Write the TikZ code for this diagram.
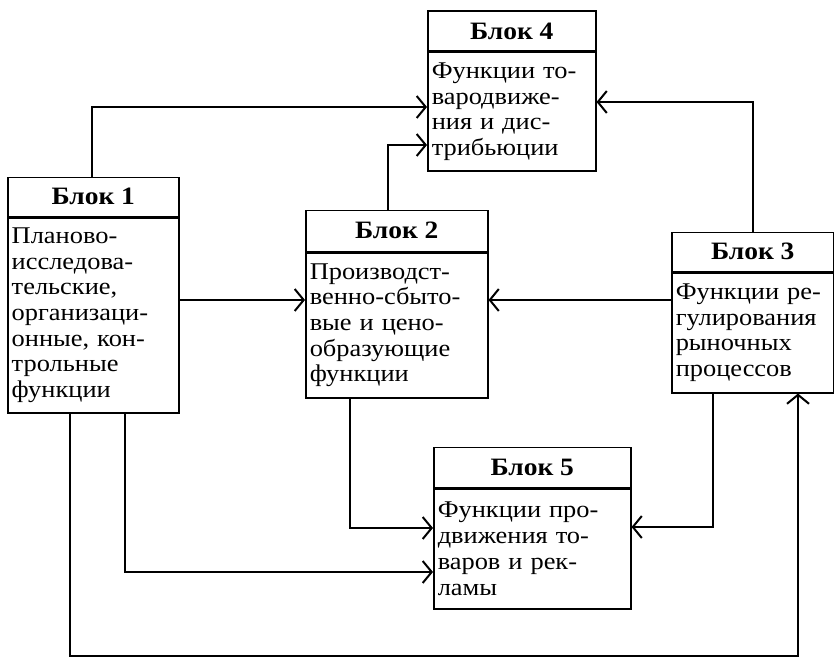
\documentclass[tikz,border=0pt]{standalone}
\usepackage{fontspec}
\setmainfont{Liberation Serif}[FakeStretch=1.1]
\usetikzlibrary{arrows.meta,positioning}
\tikzset{
  arr/.style={line width=1.2pt, -{Straight Barb[length=9pt,width=22pt,line width=2pt]}},
  bodybox/.style={draw, line width=1.5pt, anchor=north west, inner xsep=4pt, inner ysep=2pt, align=left,
    font=\fontsize{24}{25.7}\selectfont},
  headbox/.style={draw, line width=1.5pt, anchor=south west, inner sep=0pt,
    font=\fontsize{25}{25}\selectfont\bfseries}
}
\newcommand{\blk}[8]{% name, x, ytop-of-header, width, header h, body h, header text, body text
  \node[headbox, minimum width=#4pt, minimum height=#5pt] (#1h) at (#2,#3+#5) {#7};
  \node[bodybox, minimum width=#4pt, minimum height=#6pt, text width=#4pt-8pt] (#1) at (#2,#3+#5) {#8};
}
\begin{document}
\begin{tikzpicture}[x=1pt,y=-1pt]
\useasboundingbox (0,0) rectangle (834,666);
\blk{b1}{7}{178}{171}{39}{195}{Блок 1}{Планово-\\исследова-\\тельские,\\организаци-\\онные, кон-\\трольные\\функции}
\blk{b2}{305}{211}{182}{41}{145}{Блок 2}{Производст-\\венно-сбыто-\\вые и цено-\\образующие\\функции}
\blk{b3}{671}{233}{162}{39}{120}{Блок 3}{\mbox{Функции ре-}\\гулирования\\рыночных\\процессов}
\blk{b4}{427}{12}{168}{40}{118}{Блок 4}{Функции то-\\вародвиже-\\ния и дис-\\трибьюции}
\blk{b5}{433}{448}{197}{40}{120}{Блок 5}{Функции про-\\движения то-\\варов и рек-\\ламы}
\draw[arr] (b1h.north -| 92,0) |- (b4.west |- 0,107);
\draw[arr] (b2h.north -| 388,0) |- (b4.west |- 0,145);
\draw[arr] (b3h.north -| 753,0) |- (b4.east |- 0,102);
\draw[arr] (b1.east |- 0,300) -- (b2.west |- 0,300);
\draw[arr] (b3.west |- 0,300) -- (b2.east |- 0,300);
\draw[arr] (b2.south -| 350,0) |- (b5.west |- 0,528);
\draw[arr] (b1.south -| 125,0) |- (b5.west |- 0,572);
\draw[arr] (b3.south -| 713,0) |- (b5.east |- 0,527);
\coordinate (c1) at (798,656);
\draw[arr] (b1.south -| 70,0) |- (c1) -- (b3.south -| c1);
\end{tikzpicture}
\end{document}
